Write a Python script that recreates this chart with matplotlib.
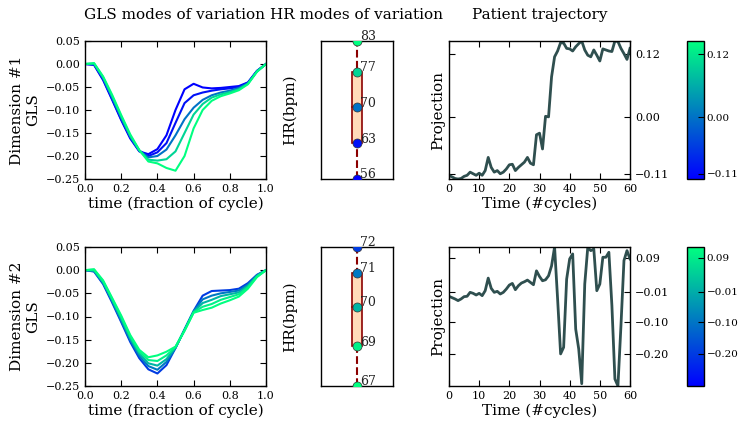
import numpy as np
import matplotlib
matplotlib.use("Agg")
import matplotlib.pyplot as plt
from matplotlib.colors import Normalize
from matplotlib.cm import ScalarMappable
from matplotlib.patches import Rectangle

W, H = 738, 421

# ---- data -------------------------------------------------------------
time_frac = [0.00, 0.05, 0.10, 0.15, 0.20, 0.25, 0.30, 0.35, 0.40, 0.45, 0.50,
             0.55, 0.60, 0.65, 0.70, 0.75, 0.80, 0.85, 0.90, 0.95, 1.00]

# mode position (projection value) of each drawn mode, -2sd .. +2sd
mode_proj = [-0.2, -0.1, 0.0, 0.1, 0.2]

gls_dim1 = [
    [0.000, -0.002, -0.035, -0.078, -0.122, -0.162, -0.190, -0.196, -0.185, -0.155, -0.100,
     -0.055, -0.043, -0.051, -0.053, -0.052, -0.050, -0.048, -0.040, -0.015, 0.000],
    [0.000, -0.001, -0.033, -0.076, -0.120, -0.160, -0.189, -0.200, -0.192, -0.172, -0.128,
     -0.085, -0.068, -0.062, -0.058, -0.055, -0.053, -0.050, -0.041, -0.015, 0.000],
    [0.000, 0.000, -0.031, -0.073, -0.117, -0.158, -0.188, -0.203, -0.200, -0.186, -0.155,
     -0.120, -0.095, -0.078, -0.068, -0.062, -0.058, -0.052, -0.042, -0.016, 0.000],
    [0.000, 0.001, -0.029, -0.070, -0.114, -0.156, -0.188, -0.208, -0.210, -0.207, -0.190,
     -0.150, -0.110, -0.087, -0.073, -0.066, -0.061, -0.055, -0.043, -0.016, 0.000],
    [0.000, 0.002, -0.027, -0.067, -0.111, -0.153, -0.187, -0.212, -0.216, -0.226, -0.232,
     -0.200, -0.140, -0.100, -0.080, -0.070, -0.064, -0.057, -0.044, -0.017, 0.000],
]
gls_dim2 = [
    [0.000, -0.003, -0.030, -0.070, -0.112, -0.155, -0.190, -0.214, -0.223, -0.205, -0.168,
     -0.128, -0.088, -0.055, -0.045, -0.044, -0.043, -0.040, -0.028, -0.010, 0.000],
    [0.000, -0.002, -0.028, -0.067, -0.109, -0.151, -0.185, -0.207, -0.215, -0.198, -0.168,
     -0.128, -0.089, -0.063, -0.055, -0.050, -0.047, -0.044, -0.031, -0.011, 0.000],
    [0.000, -0.001, -0.026, -0.064, -0.105, -0.147, -0.180, -0.201, -0.206, -0.192, -0.167,
     -0.129, -0.090, -0.071, -0.064, -0.056, -0.052, -0.048, -0.034, -0.012, 0.000],
    [0.000, 0.001, -0.024, -0.062, -0.101, -0.143, -0.176, -0.194, -0.196, -0.184, -0.166,
     -0.130, -0.091, -0.079, -0.073, -0.064, -0.058, -0.052, -0.037, -0.014, 0.000],
    [0.000, 0.002, -0.022, -0.060, -0.098, -0.140, -0.172, -0.188, -0.184, -0.176, -0.165,
     -0.131, -0.092, -0.086, -0.081, -0.072, -0.065, -0.057, -0.040, -0.015, 0.000],
]

hr_dim1 = [56.0, 63.0, 70.0, 77.0, 83.0]
hr_dim2 = [72.1, 71.2, 70.0, 68.6, 67.2]

cycles = list(range(61))
proj_dim1 = [-0.110, -0.113, -0.116, -0.117, -0.116, -0.112, -0.110, -0.104, -0.107, -0.110,
             -0.106, -0.110, -0.101, -0.076, -0.095, -0.104, -0.101, -0.107, -0.104, -0.098,
             -0.090, -0.089, -0.101, -0.095, -0.090, -0.085, -0.076, -0.087, -0.090, -0.033,
             -0.030, -0.060, 0.002, 0.001, 0.077, 0.115, 0.126, 0.142, 0.141, 0.131,
             0.130, 0.126, 0.134, 0.140, 0.145, 0.128, 0.118, 0.115, 0.128, 0.118,
             0.107, 0.130, 0.128, 0.126, 0.125, 0.145, 0.144, 0.131, 0.121, 0.110,
             0.131]
proj_dim2 = [-0.026, -0.030, -0.034, -0.039, -0.034, -0.027, -0.026, -0.014, -0.017, -0.022,
             -0.017, -0.024, -0.009, 0.029, -0.002, -0.014, -0.011, -0.019, -0.014, -0.004,
             0.008, 0.013, -0.006, 0.006, 0.014, 0.018, 0.023, 0.016, 0.009, 0.051,
             0.034, 0.021, 0.024, 0.036, 0.066, 0.123, -0.034, -0.200, -0.180, 0.026,
             0.087, 0.102, -0.125, -0.185, -0.290, 0.011, 0.122, 0.112, 0.117, -0.009,
             0.011, 0.092, 0.092, 0.107, -0.054, -0.276, -0.297, -0.115, 0.082, 0.112,
             0.087]

ticks_dim1 = [-0.107, 0.0, 0.12]
ticks_dim2 = [-0.20, -0.104, -0.012, 0.09]

titles = ["GLS modes of variation", "HR modes of variation", "Patient trajectory"]

plt.rcParams.update({
    "font.family": ["DejaVu Serif"],
    "xtick.direction": "in",
    "ytick.direction": "in",
    "xtick.top": True,
    "ytick.right": True,
    "xtick.labelsize": 8,
    "ytick.labelsize": 8,
    "xtick.major.size": 4,
    "ytick.major.size": 4,
    "axes.linewidth": 1.0,
    "axes.edgecolor": "black",
})


def box(l, t, r, b):
    return [l / W, 1 - b / H, (r - l) / W, (b - t) / H]


def fmt(v):
    return ("%.2f" % v).replace("-", "\u2212")


def draw_row(fig, top, bottom, gls, hr, proj, ticks, dim):
    cmap = plt.get_cmap("winter")
    norm = Normalize(vmin=min(proj), vmax=max(proj), clip=True)
    colors = [cmap(norm(m)) for m in mode_proj]

    # GLS modes
    ax = fig.add_axes(box(85, top, 266, bottom))
    for curve, c in zip(gls, colors):
        ax.plot(time_frac, curve, color=c, lw=1.5)
    ax.set_xlim(0, 1)
    ax.set_ylim(-0.25, 0.05)
    ax.set_yticks([-0.25, -0.2, -0.15, -0.1, -0.05, 0.0, 0.05])
    ax.set_xlabel("time (fraction of cycle)", fontsize=11, labelpad=2)
    ax.set_ylabel("Dimension #%d\nGLS" % dim, fontsize=11)

    # HR modes
    ax = fig.add_axes(box(321, top, 393, bottom))
    lo, hi = min(hr), max(hr)
    q = sorted(hr)
    ax.plot([0, 0], [lo, hi], color="#8B0000", ls="--", lw=1.5, zorder=1)
    ax.add_patch(Rectangle((-0.15, q[1]), 0.3, q[3] - q[1], facecolor="#FFDAB9",
                           edgecolor="#8B0000", lw=1.2, zorder=2))
    ax.plot([-0.15, 0.15], [q[2], q[2]], color="#8B0000", lw=1.2, zorder=2)
    for v, c in zip(hr, colors):
        ax.plot(0, v, "o", color=c, mec="#333333", mew=0.5, ms=6.5, zorder=3)
        ax.annotate("%d" % round(v), (0, v), xytext=(2, 3), textcoords="offset points",
                    fontsize=9, va="center", ha="left", color="#222222",
                    annotation_clip=False)
    ax.set_xlim(-1, 1)
    ax.set_ylim(lo, hi)
    ax.set_xticks([])
    ax.set_yticks([])
    ax.set_ylabel("HR(bpm)", fontsize=11, labelpad=17)

    # patient trajectory
    ax = fig.add_axes(box(449, top, 630, bottom))
    ax.plot(cycles, proj, color="#2F4F4F", lw=2)
    ax.set_xlim(0, 60)
    ax.set_ylim(min(proj), max(proj))
    ax.set_xticks(range(0, 61, 10))
    ax.set_yticks(ticks)
    ax.set_yticklabels([fmt(t) for t in ticks])
    ax.tick_params(axis="y", labelleft=False, labelright=True)
    ax.set_xlabel("Time (#cycles)", fontsize=11, labelpad=2)
    ax.set_ylabel("Projection", fontsize=11, labelpad=3)

    cax = fig.add_axes(box(687, top, 704, bottom))
    cb = fig.colorbar(ScalarMappable(norm=Normalize(min(proj), max(proj)), cmap=cmap),
                      cax=cax, ticks=ticks)
    cb.ax.set_yticklabels([fmt(t) for t in ticks])
    cb.ax.tick_params(direction="in", length=4, pad=2, labelsize=7.5)
    cb.outline.set_linewidth(1.0)


def main():
    fig = plt.figure(figsize=(W / 100, H / 100), dpi=100, facecolor="white")
    draw_row(fig, 41, 179, gls_dim1, hr_dim1, proj_dim1, ticks_dim1, 1)
    draw_row(fig, 247, 386, gls_dim2, hr_dim2, proj_dim2, ticks_dim2, 2)
    for x, t in zip([175, 357, 540], titles):
        fig.text(x / W, 1 - 15 / H, t, ha="center", va="center", fontsize=11)
    fig.savefig("out.png", dpi=100, facecolor="white")


if __name__ == "__main__":
    main()
